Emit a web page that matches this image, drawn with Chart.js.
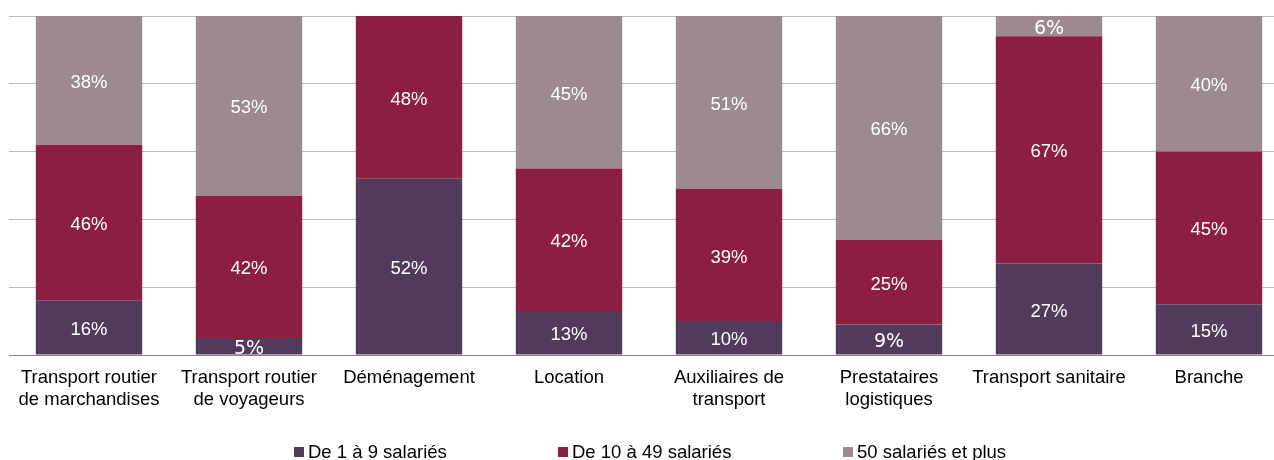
<!DOCTYPE html>
<html lang="fr">
<head>
<meta charset="utf-8">
<script src="https://cdn.jsdelivr.net/npm/chart.js@4"></script>
<style>
    html, body { margin: 0; padding: 0; background: #fff; overflow: hidden; }
    .wrap { position: relative; width: 1289px; height: 460px; }
</style>
</head>
<body>
<div class="wrap"><canvas id="chart"></canvas></div>
<script>
/* Répartition des entreprises par taille (en %) */

const categories = [
    ['Transport routier', 'de marchandises'],
    ['Transport routier', 'de voyageurs'],
    'Déménagement',
    'Location',
    ['Auxiliaires de', 'transport'],
    ['Prestataires', 'logistiques'],
    'Transport sanitaire',
    'Branche'
];
const seriesNames = ['De 1 à 9 salariés', 'De 10 à 49 salariés', '50 salariés et plus'];
const small = [16, 5, 52, 13, 10, 9, 27, 15];
const medium = [46, 42, 48, 42, 39, 25, 67, 45];
const large = [38, 53, null, 45, 51, 66, 6, 40];
const colors = ['#523b5a', '#8c1f41', '#9d8a91'];

const FONT = '"Liberation Sans", Arial, Helvetica, sans-serif';

// labels inside the segments
const valueLabels = {
    id: 'valueLabels',
    afterDatasetsDraw(chart) {
        const ctx = chart.ctx;
        ctx.save();
        ctx.fillStyle = '#fff';
        ctx.textAlign = 'center';
        ctx.textBaseline = 'middle';
        chart.data.datasets.forEach((ds, di) => {
            chart.getDatasetMeta(di).data.forEach((bar, i) => {
                const v = ds.data[i];
                if (v == null) return;
                const odd = v < 10; // 5% / 9% are in another font in the source
                ctx.font = odd ? '19px "DejaVu Sans", sans-serif' : '18.5px ' + FONT;
                const y = (bar.y + bar.base) / 2 + (odd ? 3 : 2.5);
                ctx.fillText(v + '%', bar.x, y);
            });
        });
        ctx.restore();
    }
};

// legend drawn below the axis labels
const bottomLegend = {
    id: 'bottomLegend',
    afterDraw(chart) {
        const ctx = chart.ctx;
        const xs = [294, 558, 843];
        ctx.save();
        ctx.font = '18.5px ' + FONT;
        ctx.textBaseline = 'middle';
        ctx.textAlign = 'left';
        seriesNames.forEach((name, i) => {
            ctx.fillStyle = colors[i];
            ctx.fillRect(xs[i], 447, 10, 10);
            ctx.fillStyle = '#000';
            ctx.fillText(name, xs[i] + 14, 453);
        });
        ctx.restore();
    }
};

new Chart(document.getElementById('chart'), {
    type: 'bar',
    data: {
        labels: categories,
        datasets: [
            { label: seriesNames[0], data: small, backgroundColor: colors[0] },
            { label: seriesNames[1], data: medium, backgroundColor: colors[1] },
            { label: seriesNames[2], data: large, backgroundColor: colors[2] }
        ]
    },
    options: {
        responsive: true,
        maintainAspectRatio: false,
        animation: false,
        events: [],
        layout: { padding: { left: 9, right: 0, top: 16, bottom: 35 } },
        datasets: { bar: { barPercentage: 0.665, categoryPercentage: 1, borderWidth: 0 } },
        plugins: { legend: { display: false }, tooltip: { enabled: false } },
        scales: {
            x: {
                stacked: true,
                grid: { display: false, drawTicks: false },
                border: { display: true, color: '#858585', width: 1 },
                ticks: { color: '#000', padding: 12, maxRotation: 0, autoSkip: false, font: { family: FONT, size: 18.5, lineHeight: 1.2 } },
                afterFit(scale) { scale.height = 70; }
            },
            y: {
                stacked: true,
                min: 0,
                max: 100,
                ticks: { display: false, stepSize: 20 },
                grid: { color: '#bcbcbc', lineWidth: 1, drawTicks: false },
                border: { display: false },
                afterFit(scale) { scale.width = 0; }
            }
        }
    },
    plugins: [valueLabels, bottomLegend]
});
</script>
</body>
</html>
